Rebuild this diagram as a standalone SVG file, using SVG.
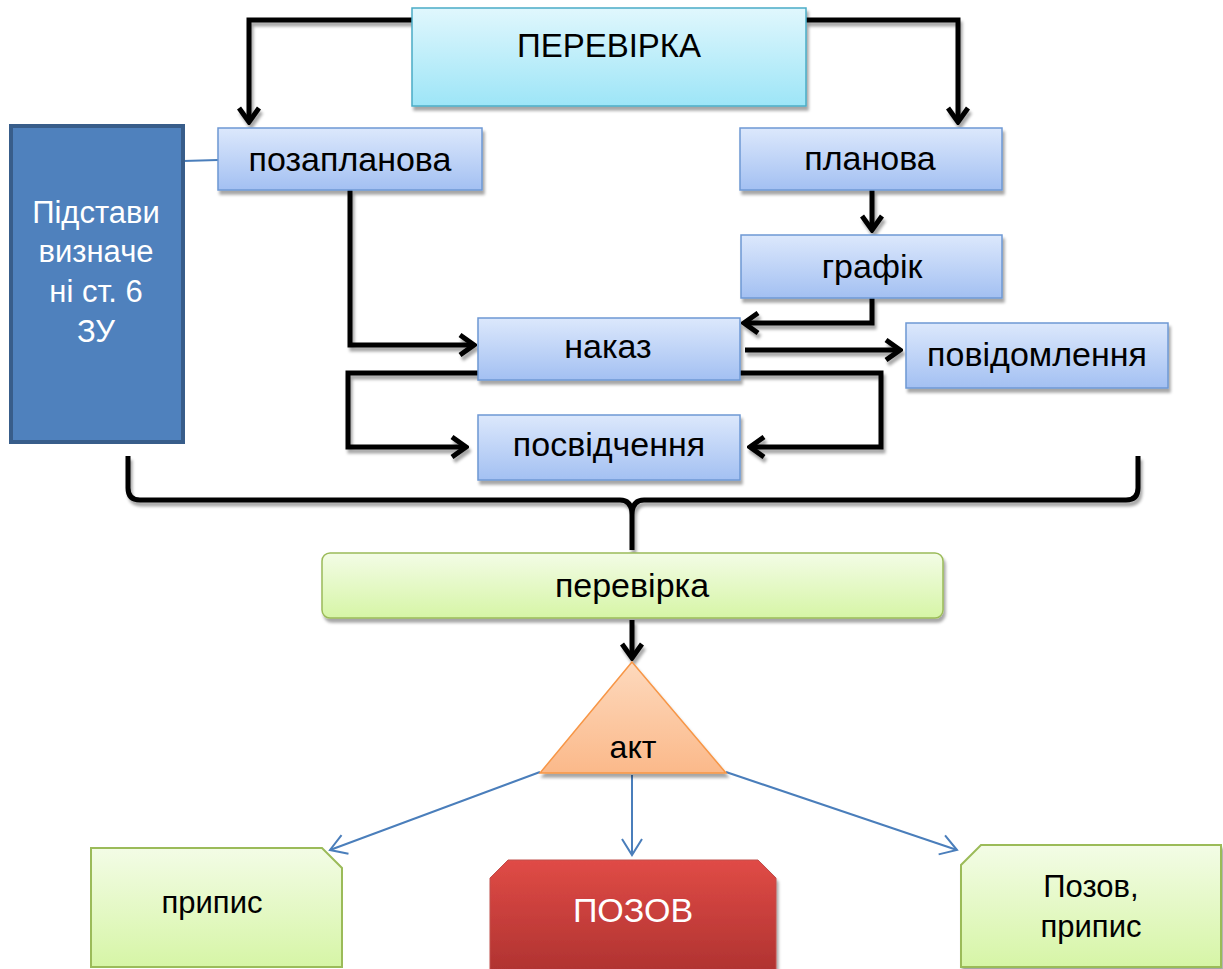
<svg xmlns="http://www.w3.org/2000/svg" width="1223" height="969" viewBox="0 0 1223 969">
<style>
text{font-family:"Liberation Sans",Arial,sans-serif;text-anchor:middle;fill:#000}
.blue{fill:url(#gBlue);stroke:#6E98D4;stroke-width:1.5}
.lbl{font-size:34px}
.wh{fill:#fff}
.k{fill:none;stroke:#000;stroke-width:5;stroke-linejoin:miter}
.b{fill:none;stroke:#4A7EBB;stroke-width:2}
</style>
<defs>
<linearGradient id="gBlue" x1="0" y1="0" x2="0" y2="1"><stop offset="0" stop-color="#DCE8FC"/><stop offset="1" stop-color="#A3C0F2"/></linearGradient>
<linearGradient id="gCyan" x1="0" y1="0" x2="0" y2="1"><stop offset="0" stop-color="#E0F7FD"/><stop offset="1" stop-color="#9DE5F7"/></linearGradient>
<linearGradient id="gGreen" x1="0" y1="0" x2="0" y2="1"><stop offset="0" stop-color="#F3FCE6"/><stop offset="1" stop-color="#D6F5A6"/></linearGradient>
<linearGradient id="gRed" x1="0" y1="0" x2="0" y2="1"><stop offset="0" stop-color="#E04B46"/><stop offset="1" stop-color="#AE3230"/></linearGradient>
<linearGradient id="gOrange" x1="0" y1="0" x2="0" y2="1"><stop offset="0" stop-color="#FDD9BD"/><stop offset="1" stop-color="#FBB98A"/></linearGradient>
<filter id="sh" x="-10%" y="-10%" width="130%" height="140%"><feDropShadow dx="2" dy="4" stdDeviation="1.5" flood-color="#000" flood-opacity="0.35"/></filter>
<marker id="ak" markerUnits="userSpaceOnUse" viewBox="0 0 20 24" refX="17" refY="12" markerWidth="20" markerHeight="24" orient="auto"><path d="M3,2 L17,12 L3,22" fill="none" stroke="#000" stroke-width="5"/></marker>
<marker id="ab" markerUnits="userSpaceOnUse" viewBox="0 0 20 24" refX="18" refY="12" markerWidth="20" markerHeight="24" orient="auto"><path d="M2,2 L18,12 L2,22" fill="none" stroke="#4A7EBB" stroke-width="2"/></marker>
</defs>

<g id="connectors">
<g filter="url(#sh)">
<path class="k" d="M412,20 H249 V122" marker-end="url(#ak)"/>
<path class="k" d="M806,20 H958 V122" marker-end="url(#ak)"/>
<path class="k" d="M350,190 V345 H474" marker-end="url(#ak)"/>
<path class="k" d="M872,190 V230" marker-end="url(#ak)"/>
<path class="k" d="M872,298 V323 H744" marker-end="url(#ak)"/>
<path class="k" d="M745,350 H900" marker-end="url(#ak)"/>
<path class="k" d="M478,373 H348 V447 H466" marker-end="url(#ak)"/>
<path class="k" d="M740,373 H881 V447 H750" marker-end="url(#ak)"/>
<path class="k" d="M128,456 V488 Q128,500 140,500 H620 Q632,500 632,515 V550 M632,515 Q632,500 644,500 H1126 Q1138,500 1138,488 V456"/>
<path class="k" d="M632,620 V658" stroke-width="4" marker-end="url(#ak)"/>
</g>
<path d="M183,161 L218,160" stroke="#4A7EBB" stroke-width="2" fill="none"/>
<path class="b" d="M540,772 L330,850" marker-end="url(#ab)"/>
<path class="b" d="M632,775 V855" marker-end="url(#ab)"/>
<path class="b" d="M726,772 L957,850" marker-end="url(#ab)"/>
</g>

<g id="n-perevirka-top">
<rect x="412" y="8" width="394" height="98" fill="url(#gCyan)" stroke="#4BACC6" stroke-width="1.5" filter="url(#sh)"/>
<text x="609" y="57" font-size="33">ПЕРЕВІРКА</text>
</g>

<g id="n-pidstavy">
<rect x="11" y="126" width="172" height="316" fill="#4F81BD" stroke="#385D8A" stroke-width="4"/>
<text class="wh" x="96" y="223" font-size="31">Підстави</text>
<text class="wh" x="96" y="262" font-size="31">визначе</text>
<text class="wh" x="96" y="302" font-size="31">ні ст. 6</text>
<text class="wh" x="96" y="342" font-size="31">ЗУ</text>
</g>

<g id="n-pozaplanova">
<rect class="blue" x="218" y="128" width="264" height="62" filter="url(#sh)"/>
<text class="lbl" x="350" y="171">позапланова</text>
</g>

<g id="n-planova">
<rect class="blue" x="740" y="128" width="262" height="62" filter="url(#sh)"/>
<text class="lbl" x="870" y="170">планова</text>
</g>

<g id="n-hrafik">
<rect class="blue" x="741" y="235" width="261" height="63" filter="url(#sh)"/>
<text class="lbl" x="872" y="278">графік</text>
</g>

<g id="n-nakaz">
<rect class="blue" x="478" y="318" width="262" height="62" filter="url(#sh)"/>
<text class="lbl" x="608" y="358">наказ</text>
</g>

<g id="n-povidomlennia">
<rect class="blue" x="906" y="323" width="262" height="65" filter="url(#sh)"/>
<text class="lbl" x="1037" y="366">повідомлення</text>
</g>

<g id="n-posvidchennia">
<rect class="blue" x="478" y="415" width="262" height="65" filter="url(#sh)"/>
<text class="lbl" x="609" y="456">посвідчення</text>
</g>

<g id="n-perevirka">
<rect x="322" y="553" width="621" height="65" rx="8" fill="url(#gGreen)" stroke="#9BBB59" stroke-width="1.5" filter="url(#sh)"/>
<text class="lbl" x="632" y="597">перевірка</text>
</g>

<g id="n-akt">
<path d="M632,662 L726,773 H540 Z" fill="url(#gOrange)" stroke="#F79646" stroke-width="1.5" filter="url(#sh)"/>
<text x="633" y="758" font-size="32">акт</text>
</g>

<g id="n-prypys">
<path d="M91,848 H322 L342,868 V967 H91 Z" fill="url(#gGreen)" stroke="#9BBB59" stroke-width="2"/>
<text x="212" y="913" font-size="31">припис</text>
</g>

<g id="n-pozov">
<path d="M508,860 H758 L776,878 V975 H490 V878 Z" fill="url(#gRed)" stroke="#C0504D" stroke-width="1" filter="url(#sh)"/>
<text x="633" y="922" font-size="34" class="wh">ПОЗОВ</text>
</g>

<g id="n-pozov-prypys">
<path d="M981,845 H1221 V967 H961 V865 Z" fill="url(#gGreen)" stroke="#9BBB59" stroke-width="2" filter="url(#sh)"/>
<text x="1091" y="897" font-size="31">Позов,</text>
<text x="1091" y="937" font-size="31">припис</text>
</g>
</svg>
